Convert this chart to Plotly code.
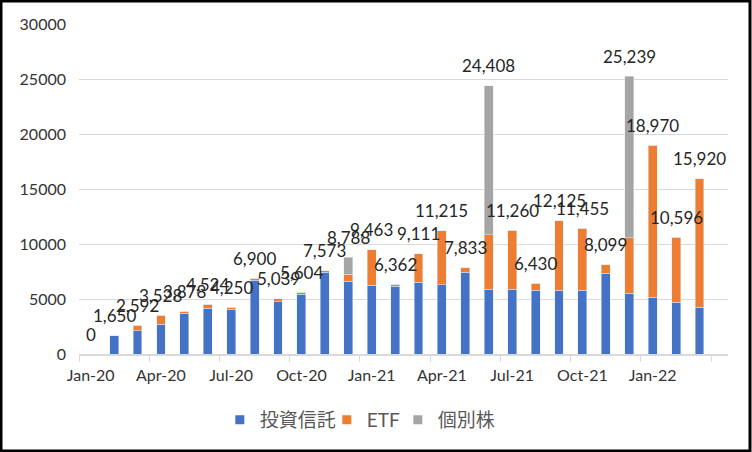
import plotly.graph_objects as go

# data
months = ["Jan-20", "Feb-20", "Mar-20", "Apr-20", "May-20", "Jun-20", "Jul-20", "Aug-20", "Sep-20",
          "Oct-20", "Nov-20", "Dec-20", "Jan-21", "Feb-21", "Mar-21", "Apr-21", "May-21", "Jun-21",
          "Jul-21", "Aug-21", "Sep-21", "Oct-21", "Nov-21", "Dec-21", "Jan-22", "Feb-22", "Mar-22"]
invest = [0, 1650, 2100, 2700, 3700, 4150, 4080, 6700, 4750, 5420, 7450, 6600, 6270, 6180,
          6520, 6280, 7440, 5880, 5880, 5790, 5790, 5790, 7350, 5510, 5150, 4690, 4230]
etf = [0, 0, 492, 828, 178, 374, 170, 200, 289, 184, 123, 650, 3193, 182,
       2591, 4935, 393, 4960, 5380, 640, 6335, 5665, 749, 5050, 13820, 5906, 11690]
stock = [0, 0, 0, 0, 0, 0, 0, 0, 0, 0, 0, 1538, 0, 0,
         0, 0, 0, 13568, 0, 0, 0, 0, 0, 14679, 0, 0, 0]
totals = [a + b + c for a, b, c in zip(invest, etf, stock)]

names = ["投資信託", "ETF", "個別株"]
colors = ["#4472C4", "#ED7D31", "#A5A5A5"]

FONT = "Lato, 'Noto Sans CJK JP', sans-serif"

fig = go.Figure()
for vals, name, col in zip([invest, etf, stock], names, colors):
    fig.add_trace(go.Bar(x=months, y=vals, name=name, marker_color=col, showlegend=False))

# legend entries with small square keys like excel
for name, col, w in zip(names, colors, [62, 26, 60]):
    fig.add_trace(go.Scatter(x=[None], y=[None], mode="markers", name=name, legendwidth=w,
                             marker=dict(symbol="square", size=9, color=col)))

# total labels above each bar
for m, t in zip(months, totals):
    fig.add_annotation(x=m, y=t, text=f"{t:,}", showarrow=False, yshift=20,
                       xanchor="center", yanchor="middle",
                       font=dict(family=FONT, size=17, color="#262626"))

# outer frame
pw, ph = 752 - 79 - 24, 452 - 24 - 98
fig.add_shape(type="rect", xref="paper", yref="paper",
              x0=-78 / pw, x1=1 + 22 / pw, y0=-97 / ph, y1=1 + 23 / ph,
              line=dict(color="black", width=3))

fig.update_layout(
    barmode="stack",
    bargap=0.62,
    width=752, height=452,
    margin=dict(l=79, r=24, t=24, b=98),
    paper_bgcolor="white", plot_bgcolor="white",
    font=dict(family=FONT, size=16, color="#333333"),
    legend=dict(orientation="h", x=0.435, xanchor="center", y=-0.2, yanchor="middle",
                font=dict(size=19, color="#595959"), traceorder="normal"),
    xaxis=dict(type="category", tickmode="linear", tick0=0, dtick=3, tickson="boundaries",
               ticks="outside", ticklen=6, tickcolor="#d9d9d9", showline=True,
               linecolor="#d9d9d9", linewidth=1.5, showgrid=False, ticklabelstandoff=6,
               tickangle=0),
    yaxis=dict(range=[0, 30000], dtick=5000, showgrid=True, gridcolor="#d9d9d9",
               gridwidth=1.3, zeroline=False, showline=False, ticklabelstandoff=12,
               tickformat="d"),
)

fig.write_html("out.html", config={"displayModeBar": False},
               post_script="document.body.style.margin='0';")
